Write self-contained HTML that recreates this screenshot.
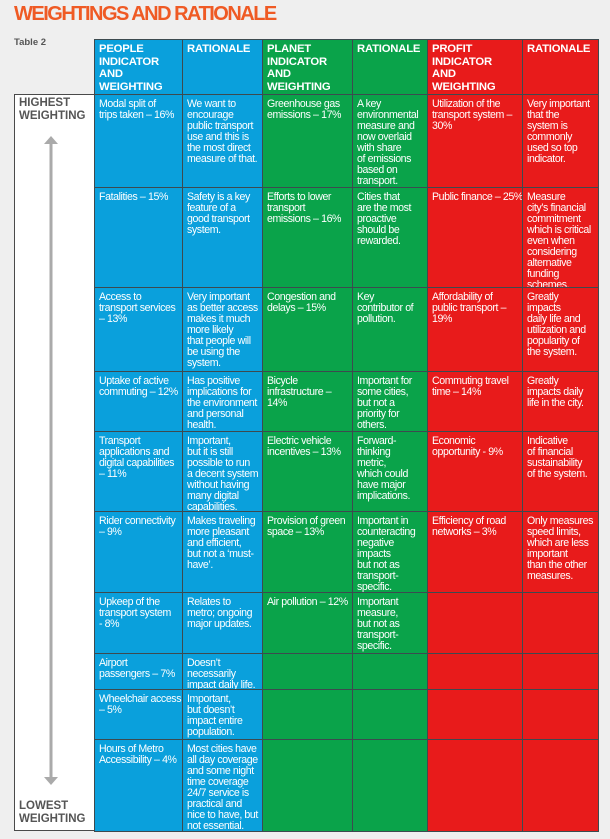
<!DOCTYPE html>
<html><head><meta charset="utf-8"><style>
body{margin:0;width:610px;height:839px;background:#efefef;position:relative;overflow:hidden;font-family:"Liberation Sans",sans-serif}
.t{position:absolute;left:14px;top:3px;font-size:20px;font-weight:bold;color:#ef5a24;letter-spacing:-1.5px}
.sub{position:absolute;left:14px;top:37px;font-size:9.5px;font-weight:bold;color:#555}
.c{position:absolute;box-sizing:border-box;border:1px solid #3d4a4f;color:#fff;font-size:10.6px;line-height:11px;padding:4px 4px;white-space:nowrap;letter-spacing:-0.4px;overflow:hidden}
.h{font-weight:bold;font-size:11.3px;line-height:12.5px;letter-spacing:-0.2px;padding:3px 4px}
.b{background:#0aa0dc}.g{background:#0aa34a}.r{background:#e81b1b}
.lb{position:absolute;left:14px;top:94px;width:82px;height:737px;box-sizing:border-box;border:1px solid #4a4a4a;border-right:none;background:#fff}
.lt{position:absolute;left:19px;font-size:11.5px;font-weight:bold;color:#555;line-height:13px}
</style></head><body>
<div class="t">WEIGHTINGS AND RATIONALE</div>
<div class="sub">Table 2</div>
<div class="lb"></div>
<div class="lt" style="top:97px">HIGHEST<br>WEIGHTING</div>
<div class="lt" style="top:800px">LOWEST<br>WEIGHTING</div>
<svg style="position:absolute;left:0;top:0" width="610" height="839">
<line x1="51" y1="143" x2="51" y2="778" stroke="#aaa" stroke-width="3"/>
<polygon points="44,144 58,144 51,136" fill="#aaa"/>
<polygon points="44,777 58,777 51,785" fill="#aaa"/>
</svg>
<div id="tbl"></div>
<script>
const cols=[94,182,262,352,427,522,598];
const rows=[39,94,187,287,371,431,511,592,653,689,739,831];
const cls=['b','b','g','g','r','r'];
const header=['PEOPLE<br>INDICATOR<br>AND<br>WEIGHTING','RATIONALE','PLANET<br>INDICATOR<br>AND<br>WEIGHTING','RATIONALE','PROFIT<br>INDICATOR<br>AND<br>WEIGHTING','RATIONALE'];
const body=[
['Modal split of<br>trips taken – 16%','We want to<br>encourage<br>public transport<br>use and this is<br>the most direct<br>measure of that.','Greenhouse gas<br>emissions – 17%','A key<br>environmental<br>measure and<br>now overlaid<br>with share<br>of emissions<br>based on<br>transport.','Utilization of the<br>transport system –<br>30%','Very important<br>that the<br>system is<br>commonly<br>used so top<br>indicator.'],
['Fatalities – 15%','Safety is a key<br>feature of a<br>good transport<br>system.','Efforts to lower<br>transport<br>emissions – 16%','Cities that<br>are the most<br>proactive<br>should be<br>rewarded.','Public finance – 25%','Measure<br>city’s financial<br>commitment<br>which is critical<br>even when<br>considering<br>alternative<br>funding<br>schemes.'],
['Access to<br>transport services<br>– 13%','Very important<br>as better access<br>makes it much<br>more likely<br>that people will<br>be using the<br>system.','Congestion and<br>delays – 15%','Key<br>contributor of<br>pollution.','Affordability of<br>public transport –<br>19%','Greatly<br>impacts<br>daily life and<br>utilization and<br>popularity of<br>the system.'],
['Uptake of active<br>commuting – 12%','Has positive<br>implications for<br>the environment<br>and personal<br>health.','Bicycle<br>infrastructure –<br>14%','Important for<br>some cities,<br>but not a<br>priority for<br>others.','Commuting travel<br>time – 14%','Greatly<br>impacts daily<br>life in the city.'],
['Transport<br>applications and<br>digital capabilities<br>– 11%','Important,<br>but it is still<br>possible to run<br>a decent system<br>without having<br>many digital<br>capabilities.','Electric vehicle<br>incentives – 13%','Forward-<br>thinking<br>metric,<br>which could<br>have major<br>implications.','Economic<br>opportunity - 9%','Indicative<br>of financial<br>sustainability<br>of the system.'],
['Rider connectivity<br>– 9%','Makes traveling<br>more pleasant<br>and efficient,<br>but not a ‘must-<br>have’.','Provision of green<br>space – 13%','Important in<br>counteracting<br>negative<br>impacts<br>but not as<br>transport-<br>specific.','Efficiency of road<br>networks – 3%','Only measures<br>speed limits,<br>which are less<br>important<br>than the other<br>measures.'],
['Upkeep of the<br>transport system<br>- 8%','Relates to<br>metro; ongoing<br>major updates.','Air pollution – 12%','Important<br>measure,<br>but not as<br>transport-<br>specific.','',''],
['Airport<br>passengers – 7%','Doesn’t<br>necessarily<br>impact daily life.','','','',''],
['Wheelchair access<br>– 5%','Important,<br>but doesn’t<br>impact entire<br>population.','','','',''],
['Hours of Metro<br>Accessibility – 4%','Most cities have<br>all day coverage<br>and some night<br>time coverage<br>24/7 service is<br>practical and<br>nice to have, but<br>not essential.','','','','']
];
const tbl=document.getElementById('tbl');
const all=[header].concat(body);
all.forEach((row,ri)=>{
  row.forEach((txt,ci)=>{
    const d=document.createElement('div');
    d.className='c '+cls[ci]+(ri===0?' h':'');
    d.style.left=cols[ci]+'px';d.style.top=rows[ri]+'px';
    d.style.width=(cols[ci+1]-cols[ci]+1)+'px';d.style.height=(rows[ri+1]-rows[ri]+1)+'px';
    d.innerHTML=txt;
    
    
    tbl.appendChild(d);
  });
});
</script>
</body></html>
